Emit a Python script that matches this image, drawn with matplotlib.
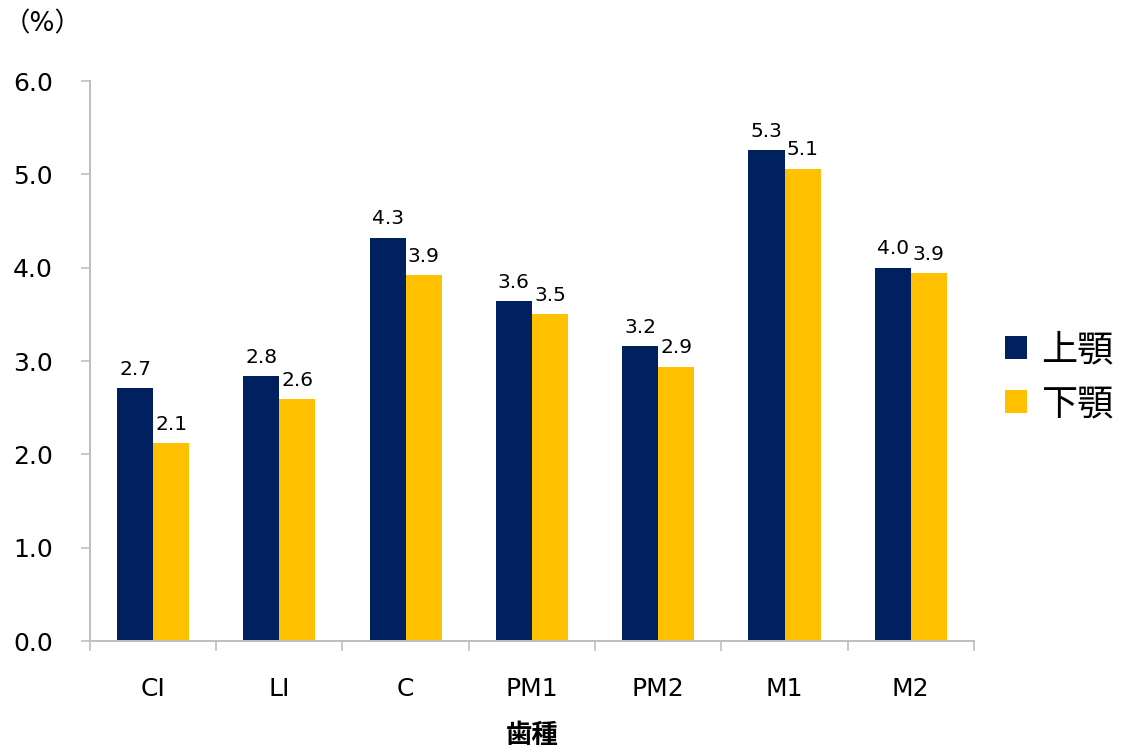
import matplotlib
matplotlib.use("Agg")
import matplotlib.pyplot as plt
import numpy as np

categories = ["CI", "LI", "C", "PM1", "PM2", "M1", "M2"]
upper = [2.71, 2.84, 4.32, 3.64, 3.16, 5.26, 4.00]   # 上顎
lower = [2.12, 2.59, 3.92, 3.50, 2.94, 5.06, 3.94]   # 下顎
series_names = ["上顎", "下顎"]
yticks = [0.0, 1.0, 2.0, 3.0, 4.0, 5.0, 6.0]

# numbers in DejaVu (close to the Meiryo look), Japanese falls back to Noto CJK
plt.rcParams['font.family'] = ['DejaVu Sans', 'Noto Sans CJK JP']

navy = "#002060"
gold = "#FFC000"
grey = "#BFBFBF"

fig = plt.figure(figsize=(11.24, 7.53), dpi=100)
ax = fig.add_axes([0.080, 0.1487, 0.7865, 0.7437])

x = np.arange(len(categories))
w = 0.286
b1 = ax.bar(x - w/2, upper, w, color=navy, label=series_names[0])
b2 = ax.bar(x + w/2, lower, w, color=gold, label=series_names[1])

for bars, vals in [(b1, upper), (b2, lower)]:
    for r, v in zip(bars, vals):
        ax.text(r.get_x() + r.get_width()/2, v + 0.1, f"{v:.1f}",
                ha="center", va="bottom", fontsize=14.5)

ax.set_xlim(-0.5, len(categories) - 0.5)
ax.set_ylim(0, 6.0)
ax.set_yticks(yticks)
ax.set_yticklabels([f"{t:.1f}" for t in yticks], fontsize=18)
ax.set_xticks(x)
ax.set_xticklabels(categories, fontsize=18)
ax.set_xticks(np.arange(len(categories) + 1) - 0.5, minor=True)
ax.tick_params(axis="x", which="major", length=0, pad=26)
ax.tick_params(axis="x", which="minor", length=7.5, color=grey, width=1.2)
ax.tick_params(axis="y", length=6.5, color=grey, width=1.2, pad=20)

for s in ["top", "right"]:
    ax.spines[s].set_visible(False)
for s in ["left", "bottom"]:
    ax.spines[s].set_color(grey)
    ax.spines[s].set_linewidth(1.4)

ax.set_xlabel("歯種", fontsize=19, fontweight="bold", labelpad=15,
              family=["Noto Sans CJK JP"])
fig.text(0.003, 0.967, "（%）", fontsize=19, ha="left", va="center",
         family=["DejaVu Sans", "Noto Sans CJK JP"])

ax.legend(loc="center left", bbox_to_anchor=(1.035, 0.471), frameon=False,
          prop={"family": ["Noto Sans CJK JP"], "size": 26},
          handlelength=0.6, handleheight=0.6, handletextpad=0.4,
          labelspacing=0.5, borderpad=0, borderaxespad=0)

fig.savefig("out.png", dpi=100)
